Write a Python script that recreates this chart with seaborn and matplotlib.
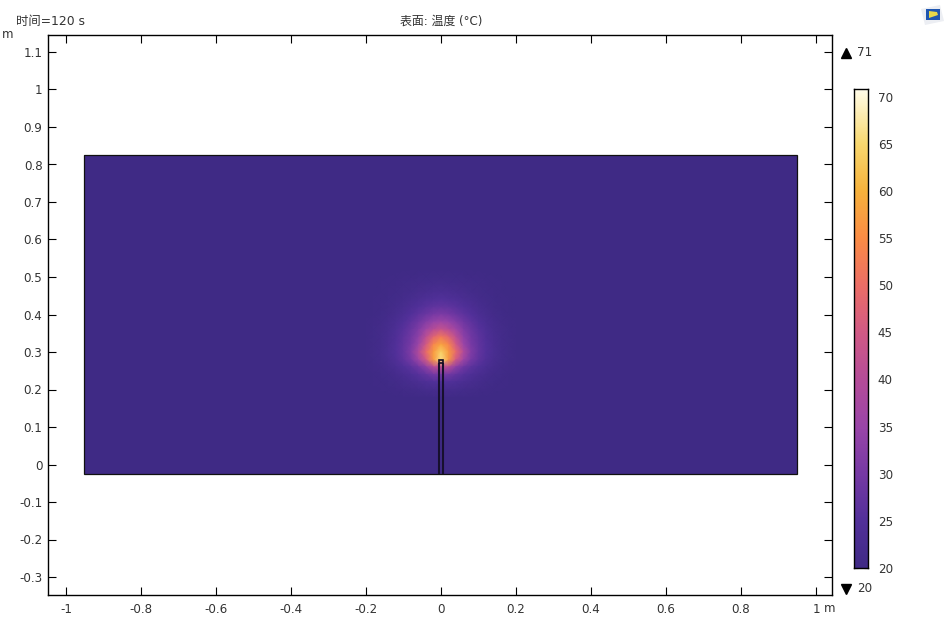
import numpy as np
import pandas as pd
import matplotlib
matplotlib.use("Agg")
import matplotlib.pyplot as plt
from matplotlib.colors import LinearSegmentedColormap
from matplotlib.lines import Line2D
from matplotlib.patches import Polygon, Rectangle
import seaborn as sns

FIG_W, FIG_H = 947, 618

# colour scale
scale_temps = [20, 25, 30, 35, 40, 45, 50, 55, 60, 65, 70, 70.8]
scale_colors = ["#3f2a85", "#52309a", "#7639a4", "#9a45a8", "#b54c98", "#d15a85",
                "#ec6e66", "#fa8c45", "#f6b23c", "#f8d86f", "#fff8da", "#fffdf0"]
scale_ticks = [20, 25, 30, 35, 40, 45, 50, 55, 60, 65, 70]
t_min = 20
t_max = 71

x_ticks = [-1, -0.8, -0.6, -0.4, -0.2, 0, 0.2, 0.4, 0.6, 0.8, 1]
y_ticks = [-0.3, -0.2, -0.1, 0, 0.1, 0.2, 0.3, 0.4, 0.5, 0.6, 0.7, 0.8, 0.9, 1, 1.1]
x_labels = ["-1", "-0.8", "-0.6", "-0.4", "-0.2", "0", "0.2", "0.4", "0.6", "0.8", "1"]
y_labels = ["-0.3", "-0.2", "-0.1", "0", "0.1", "0.2", "0.3", "0.4", "0.5", "0.6", "0.7",
            "0.8", "0.9", "1", "1.1"]

# geometry in metres
domain_x = [-0.952, 0.95]
domain_y = [-0.025, 0.825]
tube_x = [-0.005, 0.005]
tube_top = 0.27
tip_top = 0.28

# temperature away from the hot spot
ambient = 20.1

# temperature near the tip, right half only (x = 0 .. 0.20), y from 0.52 down to 0.18
hot_x = [0, 0.02, 0.04, 0.06, 0.08, 0.10, 0.12, 0.14, 0.16, 0.18, 0.20]
hot_y = [0.52, 0.50, 0.48, 0.46, 0.44, 0.42, 0.40, 0.38, 0.36, 0.34, 0.32, 0.30, 0.28,
         0.26, 0.24, 0.22, 0.20, 0.18]
hot_half = [
    [20.3, 20.3, 20.2, 20.2, 20.2, 20.1, 20.1, 20.1, 20.1, 20.1, 20.1],
    [20.9, 20.8, 20.7, 20.6, 20.5, 20.4, 20.3, 20.2, 20.1, 20.1, 20.1],
    [21.8, 21.7, 21.5, 21.3, 21.0, 20.8, 20.5, 20.3, 20.2, 20.1, 20.1],
    [23.0, 22.8, 22.5, 22.0, 21.5, 21.1, 20.7, 20.4, 20.2, 20.1, 20.1],
    [25.0, 24.7, 24.1, 23.2, 22.4, 21.7, 21.1, 20.6, 20.3, 20.2, 20.1],
    [27.5, 27.0, 26.0, 24.8, 23.6, 22.5, 21.6, 20.9, 20.5, 20.2, 20.1],
    [31.0, 30.2, 28.5, 26.8, 25.0, 23.5, 22.2, 21.3, 20.7, 20.3, 20.1],
    [36.0, 34.5, 32.0, 29.0, 26.8, 24.7, 23.0, 21.8, 21.0, 20.5, 20.2],
    [43.0, 40.5, 36.0, 31.5, 28.3, 25.8, 23.8, 22.3, 21.2, 20.6, 20.2],
    [52.0, 48.0, 41.0, 33.5, 29.5, 26.7, 24.4, 22.6, 21.4, 20.7, 20.2],
    [58.0, 54.0, 45.0, 35.5, 30.3, 27.3, 24.8, 22.9, 21.5, 20.8, 20.3],
    [64.0, 57.0, 49.0, 39.0, 31.5, 27.5, 25.0, 23.0, 21.6, 20.8, 20.3],
    [66.0, 57.0, 45.0, 36.0, 30.0, 26.8, 24.4, 22.7, 21.4, 20.7, 20.2],
    [42.0, 40.0, 33.0, 29.0, 26.5, 24.7, 23.0, 21.8, 21.0, 20.4, 20.2],
    [30.0, 29.5, 27.5, 25.6, 24.0, 22.8, 21.8, 21.1, 20.6, 20.3, 20.1],
    [25.0, 24.8, 24.0, 23.2, 22.4, 21.7, 21.1, 20.6, 20.3, 20.2, 20.1],
    [22.0, 22.0, 21.8, 21.5, 21.1, 20.8, 20.5, 20.3, 20.2, 20.1, 20.1],
    [20.4, 20.4, 20.3, 20.3, 20.2, 20.2, 20.1, 20.1, 20.1, 20.1, 20.1],
]


def fx(px):
    return px / FIG_W


def fy(py):
    return 1 - py / FIG_H


sns.set_theme(style="ticks")
plt.rcParams["font.family"] = ["DejaVu Sans", "Noto Sans CJK SC"]
plt.rcParams["font.size"] = 8.6
TXT = "#333333"

stops = [(t - t_min) / (t_max - t_min) for t in scale_temps]
stops[-1] = 1.0
stops[-2] = (70 - t_min) / (t_max - t_min)
cmap = LinearSegmentedColormap.from_list("thermal", list(zip(stops, scale_colors)))


def temp_color(t):
    return cmap((t - t_min) / (t_max - t_min))


fig = plt.figure(figsize=(FIG_W / 100, FIG_H / 100), dpi=100, facecolor="white")

# main axes, 375 px per metre on both axes
ax = fig.add_axes([fx(48), fy(595), (832 - 48) / FIG_W, (595 - 35) / FIG_H])
ax.set_xlim((48 - 441) / 375, (832 - 441) / 375)
ax.set_ylim((464.5 - 595) / 375, (464.5 - 35) / 375)
ax.set_facecolor("white")

ax.add_patch(Rectangle((domain_x[0], domain_y[0]), domain_x[1] - domain_x[0],
                       domain_y[1] - domain_y[0], facecolor=temp_color(ambient),
                       edgecolor="none", zorder=1))

# hot spot, smooth shaded
hot_right = np.array(hot_half)
hot_full = np.hstack([hot_right[:, :0:-1], hot_right])
columns = [-v for v in hot_x[:0:-1]] + hot_x
hot_df = pd.DataFrame(hot_full, index=hot_y, columns=columns)
ax_hot = ax.inset_axes([columns[0], hot_y[-1], columns[-1] - columns[0], hot_y[0] - hot_y[-1]],
                       transform=ax.transData, zorder=1.5)
sns.heatmap(hot_df, ax=ax_hot, cmap=cmap, vmin=t_min, vmax=t_max, cbar=False,
            xticklabels=False, yticklabels=False, shading="gouraud")
ax_hot.set_xlim(0, hot_df.shape[1] - 1)
ax_hot.set_ylim(hot_df.shape[0] - 1, 0)
ax_hot.set_xlabel("")
ax_hot.set_ylabel("")
ax_hot.axis("off")

# outlines
ax.add_patch(Rectangle((domain_x[0], domain_y[0]), domain_x[1] - domain_x[0],
                       domain_y[1] - domain_y[0], facecolor="none",
                       edgecolor="#111111", linewidth=0.9, zorder=2))
for tx in tube_x:
    ax.plot([tx, tx], [domain_y[0], tube_top], color="#17102e", linewidth=1.5, zorder=2,
            solid_capstyle="butt")
ax.add_patch(Rectangle((tube_x[0], tube_top), tube_x[1] - tube_x[0], tip_top - tube_top,
                       facecolor="none", edgecolor="#120c20", linewidth=1.2, zorder=2))

ax.set_xticks(x_ticks)
ax.set_xticklabels(x_labels)
ax.set_yticks(y_ticks)
ax.set_yticklabels(y_labels)
ax.tick_params(axis="both", direction="in", length=5.5, width=0.8, color="black",
               labelcolor=TXT, labelsize=8.6, top=True, right=True)
ax.tick_params(axis="x", pad=6)
ax.tick_params(axis="y", pad=4)
for s in ax.spines.values():
    s.set_visible(True)
    s.set_linewidth(1.0)
    s.set_color("black")

# colour legend
ax_bar = fig.add_axes([fx(854), fy(568), 14 / FIG_W, (568 - 89) / FIG_H])
levels = np.linspace(t_min, 70.8, 128)
sns.heatmap(np.column_stack([levels, levels]), ax=ax_bar, cmap=cmap, vmin=t_min, vmax=t_max,
            cbar=False, xticklabels=False, yticklabels=False, shading="gouraud")
ax_bar.set_xlim(0, 1)
ax_bar.set_ylim(0, len(levels) - 1)
ax_bar.set_yticks([(t - t_min) / (70.8 - t_min) * (len(levels) - 1) for t in scale_ticks])
ax_bar.set_yticklabels([str(t) for t in scale_ticks], rotation=0)
ax_bar.tick_params(axis="y", direction="in", length=3, width=0.8, color="black",
                   labelcolor=TXT, labelsize=8.6, left=True, right=True, labelleft=False,
                   labelright=True, pad=7)
ax_bar.tick_params(axis="x", length=0)
for s in ax_bar.spines.values():
    s.set_visible(True)
    s.set_linewidth(1.0)
    s.set_color("black")

# max / min markers
fig.add_artist(Line2D([fx(846)], [fy(52.5)], marker="^", color="black", markersize=7.5,
                      linestyle="none", transform=fig.transFigure))
fig.add_artist(Line2D([fx(846)], [fy(589)], marker="v", color="black", markersize=7.5,
                      linestyle="none", transform=fig.transFigure))
fig.text(fx(857), fy(53), str(t_max), color=TXT, va="center", ha="left", fontsize=8.6)
fig.text(fx(857), fy(589), str(t_min), color=TXT, va="center", ha="left", fontsize=8.6)

# header texts and units
fig.text(fx(15.5), fy(21.5), "时间=120 s", color=TXT, va="center", ha="left", fontsize=8.9)
fig.text(fx(441), fy(21.5), "表面: 温度 (°C)", color=TXT, va="center", ha="center", fontsize=8.6)
fig.text(fx(2), fy(35), "m", color=TXT, va="center", ha="left", fontsize=8.6)
fig.text(fx(824), fy(608), "m", color=TXT, va="center", ha="left", fontsize=8.6)

# small logo, top right
fig.add_artist(Polygon([(fx(921), fy(9)), (fx(940), fy(5)), (fx(944), fy(21)), (fx(925), fy(25))],
                       closed=True, facecolor="#eceef3", edgecolor="none",
                       transform=fig.transFigure))
fig.add_artist(Rectangle((fx(926), fy(20)), 14 / FIG_W, 11 / FIG_H, facecolor="#1f56b0",
                         edgecolor="none", transform=fig.transFigure))
fig.add_artist(Polygon([(fx(929), fy(11)), (fx(937), fy(12)), (fx(938), fy(15)), (fx(929), fy(18))],
                       closed=True, facecolor="#e8d84a", edgecolor="none",
                       transform=fig.transFigure))

fig.savefig("out.png", dpi=100)
